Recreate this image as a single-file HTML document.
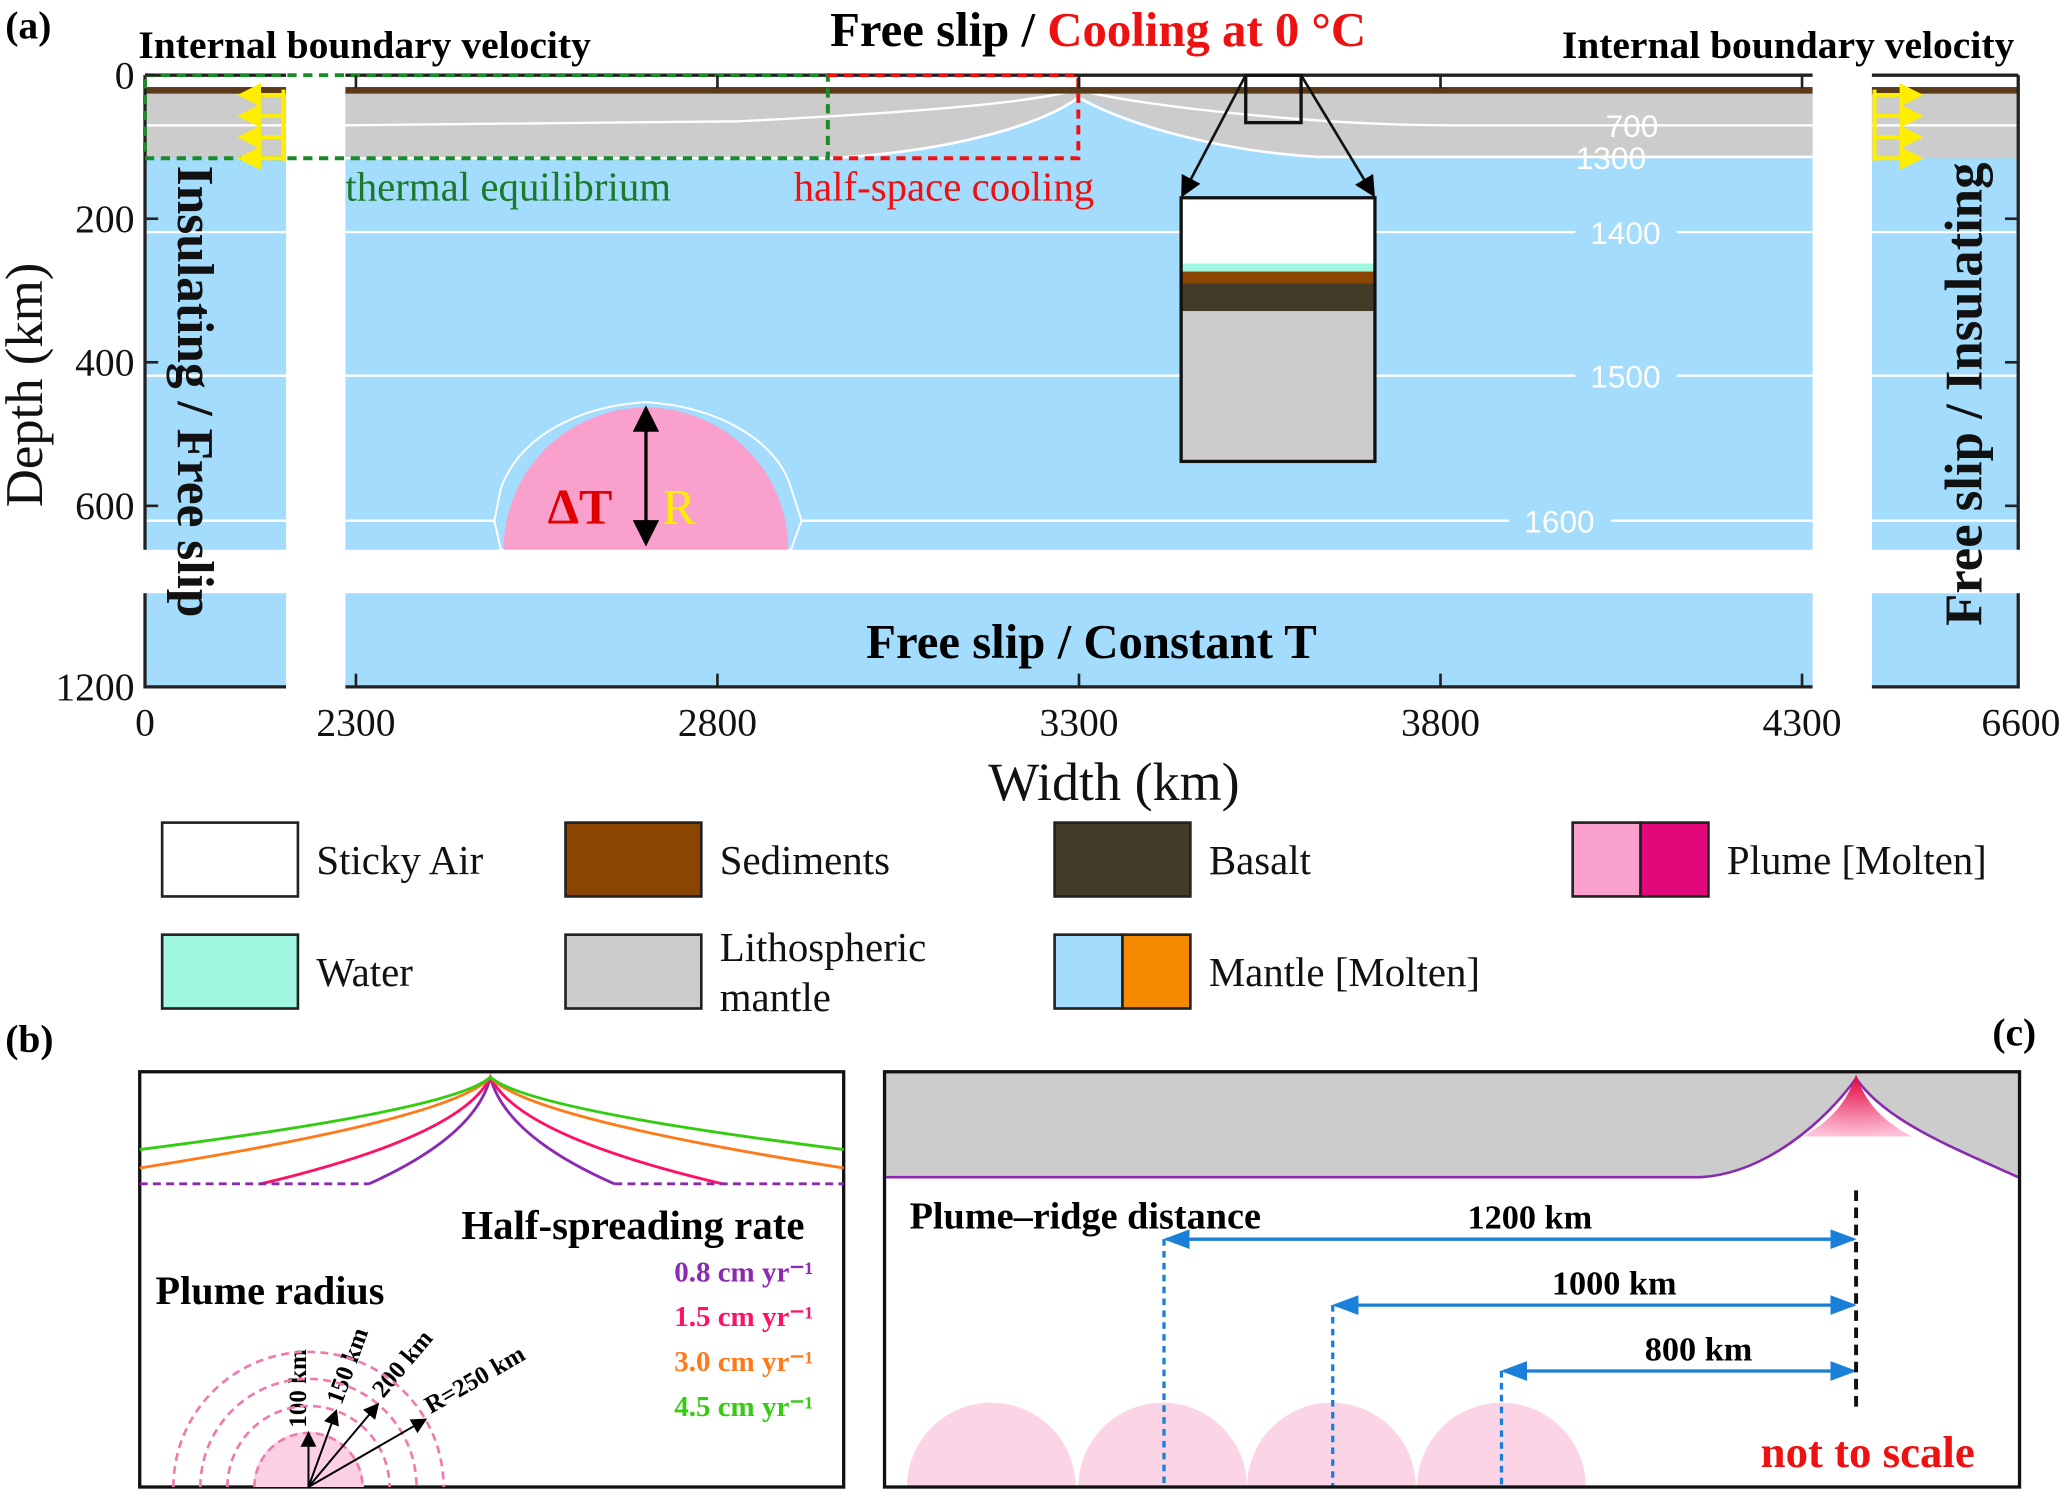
<!DOCTYPE html>
<html><head><meta charset="utf-8"><style>
html,body{margin:0;padding:0;background:#fff;width:2067px;height:1491px;overflow:hidden}
svg{display:block;font-family:"Liberation Serif",serif}
</style></head><body>
<svg id="fig" width="2067" height="1491" viewBox="0 0 1568 1131" xmlns="http://www.w3.org/2000/svg">
<defs>
<marker id="ab" markerWidth="8" markerHeight="8" refX="7" refY="4" orient="auto-start-reverse"><path d="M0,0 L8,4 L0,8 z" fill="#000"/></marker>
<marker id="abl" markerWidth="8" markerHeight="8" refX="7" refY="4" orient="auto-start-reverse"><path d="M0,1 L8,4 L0,7 z" fill="#1a7fd8"/></marker>
<marker id="ay" markerWidth="6" markerHeight="6" refX="5" refY="3" orient="auto"><path d="M0,0 L6,3 L0,6 z" fill="#ffee00"/></marker>
<radialGradient id="pg" cx="0.5" cy="0" r="1"><stop offset="0" stop-color="#e0003a"/><stop offset="1" stop-color="#ffc0d8"/></radialGradient>
</defs>
<g id="panel-a">
<rect x="110" y="57" width="107" height="360" fill="#a3dcfc"/>
<rect x="110" y="450" width="107" height="71" fill="#a3dcfc"/>
<rect x="262" y="57" width="1113" height="360" fill="#a3dcfc"/>
<rect x="262" y="450" width="1113" height="71" fill="#a3dcfc"/>
<rect x="1420" y="57" width="111" height="360" fill="#a3dcfc"/>
<rect x="1420" y="450" width="111" height="71" fill="#a3dcfc"/>
<rect x="110" y="57" width="107" height="11" fill="#fff"/><rect x="262" y="57" width="1113" height="11" fill="#fff"/><rect x="1420" y="57" width="111" height="11" fill="#fff"/>
<rect x="110" y="70" width="107" height="50" fill="#cccccc"/>
<rect x="1420" y="70" width="111" height="50" fill="#cccccc"/>
<path d="M262,70 L1375,70 L1375,120 L1000,120 C930,115 860,95 818,72 C790,95 720,115 630,120 L262,120 Z" fill="#cccccc"/>
<path d="M262,120 L630,120 C720,115 790,95 818,74 C860,97 930,115 1000,119 L1375,119" fill="none" stroke="#fff" stroke-width="2"/>
<path d="M262,95 L560,92 C700,85 780,78 818,68 C860,80 1000,95 1100,95 L1375,95" fill="none" stroke="#fff" stroke-width="1.8"/>
<line x1="110" y1="95" x2="217" y2="95" stroke="#fff" stroke-width="1.8"/><line x1="1420" y1="95" x2="1531" y2="95" stroke="#fff" stroke-width="1.8"/>
<rect x="110" y="66" width="107" height="5" fill="#5a3a18"/><rect x="262" y="66" width="1113" height="5" fill="#5a3a18"/><rect x="1420" y="66" width="111" height="5" fill="#5a3a18"/>
<g stroke="#fff" stroke-width="1.8" fill="none">
<line x1="110" y1="176" x2="217" y2="176"/><line x1="262" y1="176" x2="1195" y2="176"/><line x1="1272" y1="176" x2="1375" y2="176"/><line x1="1420" y1="176" x2="1531" y2="176"/>
<line x1="110" y1="285" x2="217" y2="285"/><line x1="262" y1="285" x2="1195" y2="285"/><line x1="1272" y1="285" x2="1375" y2="285"/><line x1="1420" y1="285" x2="1531" y2="285"/>
<line x1="110" y1="395" x2="217" y2="395"/><line x1="262" y1="395" x2="375" y2="395"/><line x1="608" y1="395" x2="1145" y2="395"/><line x1="1222" y1="395" x2="1375" y2="395"/><line x1="1420" y1="395" x2="1531" y2="395"/>
</g>
<g fill="#fff" font-family="Liberation Sans,sans-serif" font-size="24" text-anchor="middle">
<text x="1238" y="104">700</text><text x="1222" y="128">1300</text><text x="1233" y="185">1400</text><text x="1233" y="294">1500</text><text x="1183" y="404">1600</text>
</g>
<path d="M375,395 L380,370 C395,330 440,308 490,305 C545,308 590,335 600,370 L608,395 L600,417 L380,417 Z" fill="#a3dcfc" stroke="#fff" stroke-width="1.5"/>
<path d="M382,417 A108,108 0 0 1 598,417 Z" fill="#f9a0cc"/>
<line x1="490" y1="310" x2="490" y2="412" stroke="#000" stroke-width="2.5" marker-start="url(#ab)" marker-end="url(#ab)"/>
<text x="440" y="397" fill="#e00000" font-size="38" font-weight="bold" text-anchor="middle">ΔT</text>
<text x="515" y="397" fill="#ffee00" font-size="38" text-anchor="middle">R</text>
<g fill="none" stroke="#222" stroke-width="2.5">
<path d="M110,57 L217,57 M110,57 L110,417 M110,450 L110,521 L217,521"/>
<path d="M262,57 L1375,57 M262,521 L1375,521"/>
<path d="M1420,57 L1531,57 M1531,57 L1531,417 M1531,450 L1531,521 L1420,521"/>
</g>
<rect x="110" y="57" width="518" height="63" fill="none" stroke="#1a8a2a" stroke-width="3" stroke-dasharray="7,5"/>
<path d="M628,57 L818,57 L818,120 L628,120" fill="none" stroke="#ee1111" stroke-width="3" stroke-dasharray="7,5"/>
<text x="262" y="152" fill="#1a7a2a" font-size="31">thermal equilibrium</text>
<text x="602" y="152" fill="#ee1111" font-size="31">half-space cooling</text>
<g stroke="#ffee00" stroke-width="3" fill="none">
<line x1="215" y1="68" x2="215" y2="122"/><line x1="215" y1="72" x2="183" y2="72" marker-end="url(#ay)"/><line x1="215" y1="88" x2="183" y2="88" marker-end="url(#ay)"/><line x1="215" y1="104" x2="183" y2="104" marker-end="url(#ay)"/><line x1="215" y1="120" x2="183" y2="120" marker-end="url(#ay)"/>
</g>
<g stroke="#ffee00" stroke-width="3" fill="none">
<line x1="1422" y1="68" x2="1422" y2="122"/><line x1="1422" y1="72" x2="1456" y2="72" marker-end="url(#ay)"/><line x1="1422" y1="88" x2="1456" y2="88" marker-end="url(#ay)"/><line x1="1422" y1="104" x2="1456" y2="104" marker-end="url(#ay)"/><line x1="1422" y1="120" x2="1456" y2="120" marker-end="url(#ay)"/>
</g>
<rect x="945" y="57" width="42" height="36" fill="none" stroke="#111" stroke-width="2.5"/>
<line x1="945" y1="57" x2="897" y2="148" stroke="#111" stroke-width="2" marker-end="url(#ab)"/>
<line x1="987" y1="57" x2="1042" y2="148" stroke="#111" stroke-width="2" marker-end="url(#ab)"/>
<g>
<rect x="896" y="150" width="147" height="50" fill="#fff"/>
<rect x="896" y="200" width="147" height="6" fill="#a0f8e0"/>
<rect x="896" y="206" width="147" height="9" fill="#8a4500"/>
<rect x="896" y="215" width="147" height="21" fill="#433b28"/>
<rect x="896" y="236" width="147" height="114" fill="#cccccc"/>
<rect x="896" y="150" width="147" height="200" fill="none" stroke="#111" stroke-width="2.5"/>
</g>
<g id="ticks" stroke="#222" stroke-width="2"></g>
<g id="tick-labels" font-size="30" fill="#111"></g>
<text transform="translate(32,292) rotate(-90)" font-size="40" text-anchor="middle" fill="#111">Depth (km)</text>
<text x="845" y="607" font-size="41" text-anchor="middle" fill="#111">Width (km)</text>
<text x="4" y="29" font-size="30" font-weight="bold">(a)</text>
<text x="105" y="44" font-size="30" font-weight="bold">Internal boundary velocity</text>
<text x="1528" y="44" font-size="30" font-weight="bold" text-anchor="end">Internal boundary velocity</text>
<text x="833" y="35" font-size="37" font-weight="bold" text-anchor="middle">Free slip / <tspan fill="#ee1111">Cooling at 0 °C</tspan></text>
<text transform="translate(135,297) rotate(90)" font-size="39" font-weight="bold" text-anchor="middle" fill="#111">Insulating / Free slip</text>
<text transform="translate(1503,299) rotate(-90)" font-size="40" font-weight="bold" text-anchor="middle" fill="#111">Free slip / Insulating</text>
<text x="828" y="499" font-size="37" font-weight="bold" text-anchor="middle">Free slip / Constant T</text>
</g>
<g id="legend" font-size="31" fill="#111"></g>
<g id="panel-b">
<text x="4" y="798" font-size="30" font-weight="bold">(b)</text>
<rect x="106" y="813" width="534" height="315" fill="#fff" stroke="#111" stroke-width="2.5"/>
<g id="rates" fill="none" stroke-width="2"></g>
<text x="350" y="940" font-size="31" font-weight="bold">Half-spreading rate</text>
<g id="rate-labels" font-size="22" font-weight="bold" text-anchor="end"></g>
<text x="118" y="989" font-size="30.5" font-weight="bold">Plume radius</text>
<g id="radii"></g>
</g>
<g id="panel-c">
<text x="1528" y="793" font-size="30" font-weight="bold" text-anchor="middle">(c)</text>
<path d="M671,814 L1531,814 L1531,893 C1480,870 1430,850 1408,818 C1385,850 1340,890 1290,893 L671,893 Z" fill="#cccccc"/>
<path d="M671,893 L1290,893 C1340,890 1385,850 1408,818 C1430,850 1480,870 1531,893" fill="none" stroke="#8a2ab0" stroke-width="2"/>
<path d="M1408,815 C1400,840 1385,852 1368,862 L1450,862 C1432,852 1416,840 1408,815 Z" fill="url(#pg)"/>
<g id="distances"></g>
<line x1="1408" y1="903" x2="1408" y2="1068" stroke="#111" stroke-width="3" stroke-dasharray="8,5"/>
<text x="690" y="932" font-size="29" font-weight="bold">Plume–ridge distance</text>
<text x="1498" y="1113" font-size="34" font-weight="bold" fill="#ee1111" text-anchor="end">not to scale</text>
<rect x="671" y="813" width="861" height="315" fill="none" stroke="#111" stroke-width="2.5"/>
</g>
<script>
var NS="http://www.w3.org/2000/svg";
function mk(p,t,a){var e=document.createElementNS(NS,t);for(var k in a)e.setAttribute(k,a[k]);p.appendChild(e);return e;}
var yTicks=[0,200,400,600,1200];
var xTicksCenter=[2300,2800,3300,3800,4300];
var xTicksSide=[0,6600];
function yScale(d){return d<=600?57+d*0.5445:521-(1200-d)*0.5445;}
function xScale(w){if(w<2300)return 110;if(w>=6600)return 1531;return 270+(w-2300)*0.5485;}
var tk=document.getElementById('ticks'),tl=document.getElementById('tick-labels');
yTicks.forEach(function(d){var y=yScale(d);
 var l=mk(tk,'line',{x1:110,x2:120,y1:y,y2:y});
 mk(tk,'line',{x1:1521,x2:1531,y1:y,y2:y});
 var t=mk(tl,'text',{x:102,y:y+10,'text-anchor':'end'});t.textContent=d;});
xTicksCenter.forEach(function(w){var x=xScale(w);
 var l=mk(tk,'line',{x1:x,x2:x,y1:521,y2:511});
 mk(tk,'line',{x1:x,x2:x,y1:57,y2:67});
 var t=mk(tl,'text',{x:x,y:558,'text-anchor':'middle'});t.textContent=w;});
xTicksSide.forEach(function(w){var t=mk(tl,'text',{x:w==0?110:1533,y:558,'text-anchor':'middle'});t.textContent=w;});
var legNames=["Sticky Air","Sediments","Basalt","Plume [Molten]","Water","Lithospheric|mantle","Mantle [Molten]"];
var legColors=[["#ffffff"],["#8a4500"],["#433b28"],["#f9a0cc","#e2087c"],["#a0f8e0"],["#cccccc"],["#a3dcfc","#f58a00"]];
var legX=[123,429,800,1193,123,429,800],legY=[624,624,624,624,709,709,709];
var lg=document.getElementById('legend');
legNames.forEach(function(n,i){var g=mk(lg,'g',{});
 var c=legColors[i],w=103/c.length;c.forEach(function(col,j){mk(g,'rect',{x:legX[i]+j*w,y:legY[i],width:w,height:56,fill:col,stroke:'#222','stroke-width':2});});
 var parts=n.split('|');parts.forEach(function(p,k){var t=mk(g,'text',{x:legX[i]+117,y:legY[i]+(parts.length>1?20+k*38:39)});t.textContent=p;});});
var rateLabels=["0.8 cm yr⁻¹","1.5 cm yr⁻¹","3.0 cm yr⁻¹","4.5 cm yr⁻¹"];
var rateColors=["#8a2ab0","#ff1166","#ff7a1a","#33cc11"];
var rateEdgeDepth=[898,898,886,872];
var rateFlatX=[174,92,0,0];
var rg=document.getElementById('rates'),rl=document.getElementById('rate-labels');
var ax=372,ay=817;
rateLabels.forEach(function(r,i){var yb=rateEdgeDepth[i],fx=rateFlatX[i];var lx=106+fx,rx=640-fx;
 var k1=fx>0?0.12:0.1,k2=fx>0?0.55:0.45;
 var p=mk(rg,'path',{d:'M'+lx+','+yb+' Q'+(ax-(ax-lx)*k1)+','+(ay+(yb-ay)*k2)+' '+ax+','+ay+' Q'+(ax+(rx-ax)*k1)+','+(ay+(yb-ay)*k2)+' '+rx+','+yb,stroke:rateColors[i],'stroke-width':2.2});
 
 var t=mk(rl,'text',{x:617,y:972+i*34,fill:rateColors[i]});t.textContent=r;});
mk(rg,'line',{x1:106,x2:106+rateFlatX[0],y1:898,y2:898,stroke:rateColors[0],'stroke-dasharray':'6,4','stroke-width':2.2});
mk(rg,'line',{x1:640-rateFlatX[0],x2:640,y1:898,y2:898,stroke:rateColors[0],'stroke-dasharray':'6,4','stroke-width':2.2});
var radiiKm=[100,150,200,250];
var rd=document.getElementById('radii');var cx=234,cy=1128;
mk(rd,'path',{d:'M'+(cx-42)+','+cy+' A42,42 0 0 1 '+(cx+42)+','+cy+' Z',fill:'#fbd0e4'});
radiiKm.forEach(function(r,i){var R=r*0.41;var c=mk(rd,'path',{d:'M'+(cx-R)+','+cy+' A'+R+','+R+' 0 0 1 '+(cx+R)+','+cy,fill:'none',stroke:'#f07ab0','stroke-width':2,'stroke-dasharray':'6,4'});
 
 var ang=(90-i*20)*Math.PI/180;var ex=cx+R*Math.cos(ang),ey=cy-R*Math.sin(ang);
 mk(rd,'line',{x1:cx,y1:cy,x2:ex,y2:ey,stroke:'#000','stroke-width':1.5,'marker-end':'url(#ab)'});
 var t=mk(rd,'text',{transform:'translate('+(ex+(i==0?-2:4))+','+(ey-4)+') rotate('+(-(90-i*20))+')','font-size':19,'font-weight':'bold'});t.textContent=(i==3?'R=':'')+r+' km';
 });
var distKm=[1200,1000,800];
var dg=document.getElementById('distances');
var plumeCenters=[752,882,1010,1139];
plumeCenters.forEach(function(x){var p=mk(dg,'path',{d:'M'+(x-64)+',1128 A64,64 0 0 1 '+(x+64)+',1128 Z',fill:'#fbd5e6'});});
function distX(d){return 1139-(d-800)*0.64;}
distKm.forEach(function(d,i){var x=distX(d);var y=940+i*50;
 mk(dg,'line',{x1:x,x2:x,y1:y,y2:1128,stroke:'#1a7fd8','stroke-width':2.5,'stroke-dasharray':'5,4'});
 var a=mk(dg,'line',{x1:x+2,x2:1406,y1:y,y2:y,stroke:'#1a7fd8','stroke-width':2.5,'marker-start':'url(#abl)','marker-end':'url(#abl)'});
 
 var t=mk(dg,'text',{x:(x+1408)/2+15,y:y-8,'font-size':26,'font-weight':'bold','text-anchor':'middle'});t.textContent=d+' km';
 });
</script>
</svg>
</body></html>
